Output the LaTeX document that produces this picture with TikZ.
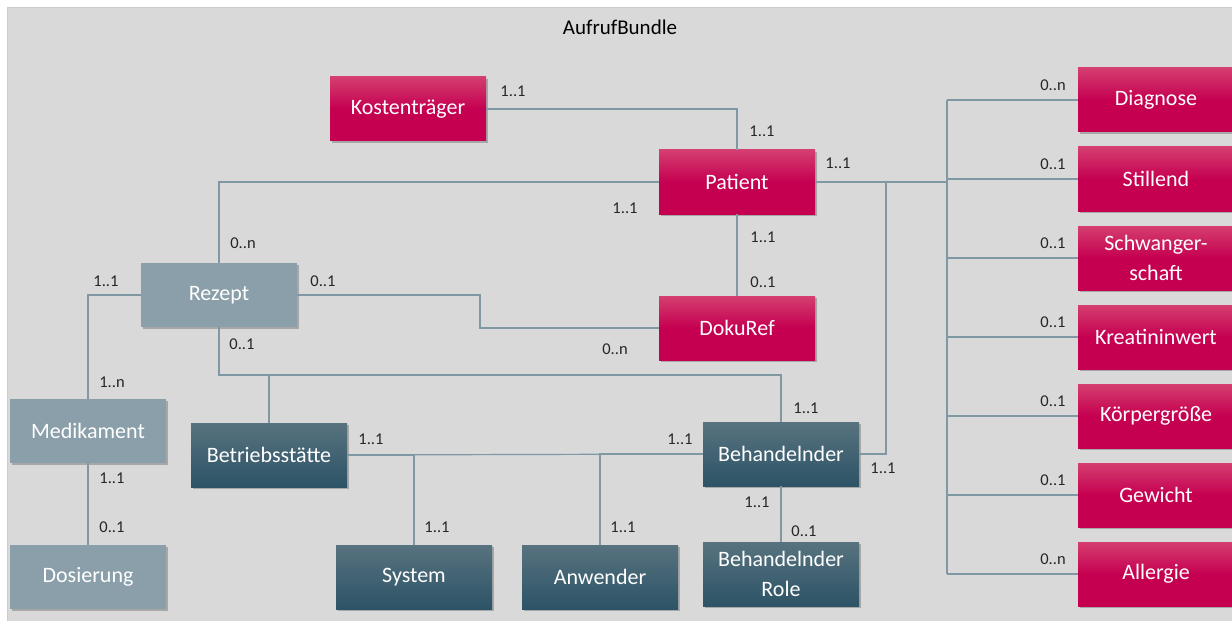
\documentclass[tikz,border=0pt]{standalone}
\usepackage{fontspec}
\setmainfont{Carlito}
\usetikzlibrary{shadows}
\definecolor{panelgray}{HTML}{D9D9D9}
\definecolor{crimtop}{RGB}{212,62,112}
\definecolor{crimbot}{RGB}{197,0,80}
\definecolor{slatelight}{HTML}{8A9FA9}
\definecolor{tealtop}{RGB}{88,115,127}
\definecolor{tealbot}{RGB}{44,83,102}
\definecolor{linkgray}{HTML}{7F98A4}
\begin{document}
\begin{tikzpicture}[
  x=1pt,y=-1pt,
  box/.style={minimum width=156pt, minimum height=64pt, inner sep=2pt, align=center,
    text=white, font=\fontsize{22}{30}\selectfont,
    drop shadow={shadow xshift=1.5pt, shadow yshift=-2pt, opacity=0.35, fill=black!70}},
  redbox/.style={box, top color=crimtop, bottom color=crimbot, middle color=crimbot},
  lightbox/.style={box, fill=slatelight},
  tealbox/.style={box, top color=tealtop, bottom color=tealbot},
  card/.style={font=\fontsize{16.5}{18}\selectfont, text=black!85, inner sep=1pt},
  link/.style={draw=linkgray, line width=1.2pt}
]
\useasboundingbox (0,0) rectangle (1232,623);
\fill[panelgray] (7,7) rectangle (1232,621);
\draw[black!20, line width=0.8pt] (7,621) -- (7,7) -- (1232,7);

\node[font=\fontsize{21}{24}\selectfont] (title) at (620,27) {AufrufBundle};

% main boxes
\node[redbox] (kosten) at (408,109) {Kostenträger};
\node[redbox] (patient) at (737,182) {Patient};
\node[redbox] (doku) at (737,328) {DokuRef};
\node[lightbox] (rezept) at (219,295) {Rezept};
\node[lightbox] (medik) at (88,431) {Medikament};
\node[lightbox] (dosis) at (88,577) {Dosierung};
\node[tealbox] (betrieb) at (269,455) {Betriebsstätte};
\node[tealbox] (behand) at (781,454) {Behandelnder};
\node[tealbox] (system) at (414,577) {System};
\node[tealbox] (anwender) at (600,577) {Anwender};
\node[tealbox] (role) at (781,574) {Behandelnder\\Role};

\coordinate (pbus) at (947,182);
\coordinate (bk) at (886,182);
\coordinate (rdbend) at (480,295);
\coordinate (rbus) at (219,375);

% connectors
\draw[link] (kosten.east) -| (patient.north);
\draw[link] (patient.west) -| (rezept.north);
\draw[link] (patient.south) -- (doku.north);
\draw[link] (rezept.east) -- (rdbend) |- (doku.west);
\draw[link] (rezept.west) -| (medik.north);
\draw[link] (medik.south) -- (dosis.north);
\draw[link] (rezept.south) -- (rbus) -| (behand.north);
\draw[link] (rbus -| betrieb.north) -- (betrieb.north);
\draw[link] (betrieb.east) -- (behand.west);
\draw[link] (system.north) |- (betrieb.east);
\draw[link] (anwender.north) |- (behand.west);
\draw[link] (behand.south) -- (role.north);
\draw[link] (behand.east) -| (bk);
\draw[link] (patient.east) -- (pbus);

% cardinalities
\node[card] (k1) at (513,91) {1..1};
\node[card] (k2) at (762,131) {1..1};
\node[card] (k3) at (838,163) {1..1};
\node[card] (k4) at (625,208) {1..1};
\node[card] (k5) at (763,237) {1..1};
\node[card] (k6) at (763,282) {0..1};
\node[card] (k7) at (615,349) {0..n};
\node[card] (k8) at (243,243) {0..n};
\node[card] (k9) at (323,281) {0..1};
\node[card] (k10) at (106,281) {1..1};
\node[card] (k11) at (242,344) {0..1};
\node[card] (k12) at (112,382) {1..n};
\node[card] (k13) at (112,478) {1..1};
\node[card] (k14) at (112,527) {0..1};
\node[card] (k15) at (371,439) {1..1};
\node[card] (k16) at (437,527) {1..1};
\node[card] (k17) at (623,527) {1..1};
\node[card] (k18) at (680,439) {1..1};
\node[card] (k19) at (806,408) {1..1};
\node[card] (k20) at (883,468) {1..1};
\node[card] (k21) at (757,502) {1..1};
\node[card] (k22) at (804,531) {0..1};

% right column
\foreach \nm/\txt/\card/\yy in {diag/Diagnose/{0..n}/100, still/Stillend/{0..1}/179,
    schw/{Schwanger-\\schaft}/{0..1}/258, krea/Kreatininwert/{0..1}/337,
    koerp/Körpergröße/{0..1}/416, gew/Gewicht/{0..1}/495, allerg/Allergie/{0..n}/574}{
  \node[redbox] (\nm) at (1156,\yy) {\txt};
  \node[card] (c\nm) at (1053,\yy-15) {\card};
  \draw[link] (\nm.west) -- (\nm.west -| pbus);
}
\draw[link] (diag.west -| pbus) -- (allerg.west -| pbus);
\end{tikzpicture}
\end{document}
